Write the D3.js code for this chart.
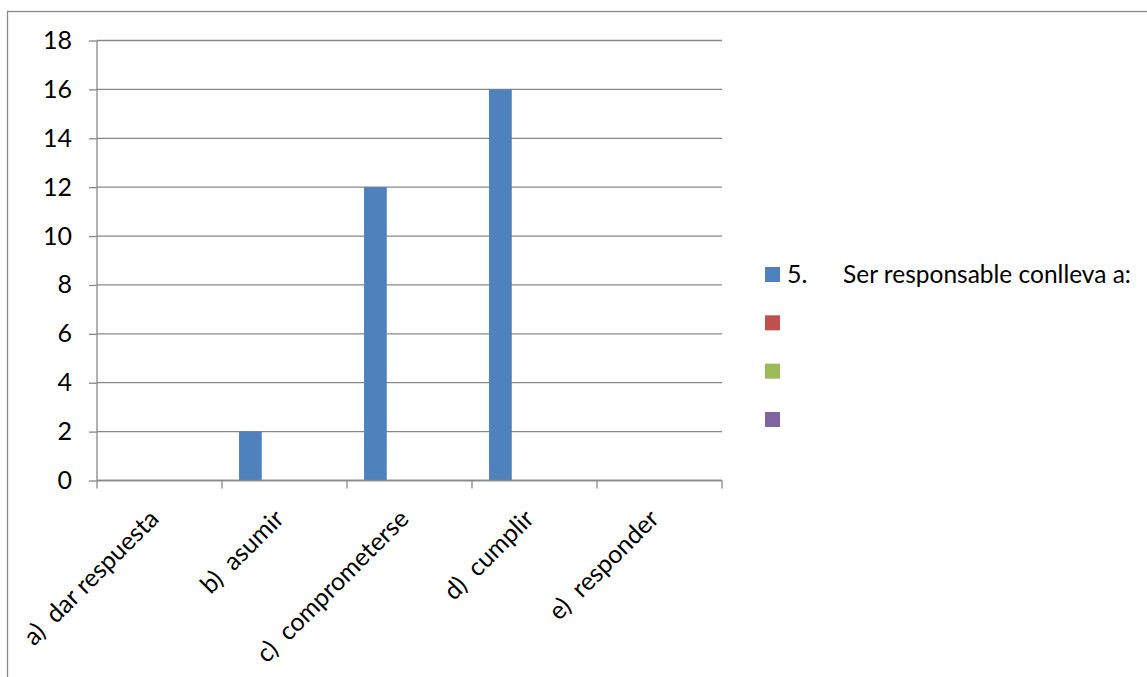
<!DOCTYPE html>
<html>
<head>
<meta charset="utf-8">
<script src="https://cdn.jsdelivr.net/npm/d3@7"></script>
<style>
  html, body { margin: 0; padding: 0; background: #fff; }
  svg { display: block; }
  text { font-family: Lato, "Open Sans", sans-serif; fill: #000; }
</style>
</head>
<body>
<svg id="chart" width="1147" height="677"></svg>
<script>
const categories = ["a) dar respuesta", "b) asumir", "c) comprometerse", "d) cumplir", "e) responder"];
const seriesNames = ["5.\tSer responsable conlleva a:", "", "", ""];
const series1Values = [0, 2, 12, 16, 0];
const series2Values = [null, null, null, null, null];
const series3Values = [null, null, null, null, null];
const series4Values = [null, null, null, null, null];
const yTicks = [0, 2, 4, 6, 8, 10, 12, 14, 16, 18];
const colors = ["#4F81BD", "#C0504D", "#9BBB59", "#8064A2"];

const allSeries = [series1Values, series2Values, series3Values, series4Values];

const svg = d3.select("#chart");
const fontSize = 25;
const gridColor = "#888888";

// outer chart border
svg.append("rect")
  .attr("x", 7.5).attr("y", 11.5)
  .attr("width", 1160).attr("height", 700)
  .attr("fill", "none").attr("stroke", "#888").attr("stroke-width", 1.3);

const plotLeft = 97, plotRight = 722, plotTop = 40.5, plotBottom = 480.5;

const y = d3.scaleLinear().domain([0, 18]).range([plotBottom, plotTop]);
const x0 = d3.scaleBand().domain(categories).range([plotLeft, plotRight]).paddingInner(0).paddingOuter(0);
const x1 = d3.scaleBand().domain(d3.range(4)).range([0, x0.bandwidth()]).paddingInner(0).paddingOuter(0.75);

// gridlines
svg.append("g")
  .selectAll("line")
  .data(yTicks)
  .join("line")
  .attr("x1", plotLeft).attr("x2", plotRight)
  .attr("y1", d => y(d)).attr("y2", d => y(d))
  .attr("stroke", gridColor).attr("stroke-width", 1.3);

// bars
allSeries.forEach((vals, si) => {
  svg.append("g")
    .selectAll("rect")
    .data(vals.map((v, i) => ({ v, c: categories[i] })).filter(d => d.v != null && d.v > 0))
    .join("rect")
    .attr("x", d => x0(d.c) + x1(si))
    .attr("width", x1.bandwidth())
    .attr("y", d => y(d.v))
    .attr("height", d => y(0) - y(d.v))
    .attr("fill", colors[si]);
});

// y axis
const yAxis = svg.append("g")
  .attr("transform", `translate(${plotLeft},0)`)
  .call(d3.axisLeft(y).tickValues(yTicks).tickSize(8).tickPadding(17).tickFormat(d3.format("d")));
yAxis.select(".domain").attr("stroke", gridColor).attr("stroke-width", 1.3).attr("d", `M0,${plotTop}V${plotBottom}`);
yAxis.selectAll(".tick line").attr("stroke", gridColor).attr("stroke-width", 1.3);
yAxis.selectAll(".tick text").style("font-size", fontSize + "px").style("font-family", "Lato").attr("fill", "#000");

// x axis
const xAxis = svg.append("g")
  .attr("transform", `translate(0,${plotBottom})`)
  .call(d3.axisBottom(x0).tickSize(0).tickFormat(""));
xAxis.select(".domain").attr("stroke", gridColor).attr("stroke-width", 1.3).attr("d", `M${plotLeft},0H${plotRight}`);
xAxis.selectAll(".tick").remove();
const boundaries = categories.map(c => x0(c)).concat([plotRight]);
xAxis.append("g").selectAll("line")
  .data(boundaries)
  .join("line")
  .attr("x1", d => d).attr("x2", d => d)
  .attr("y1", 0).attr("y2", 8)
  .attr("stroke", gridColor).attr("stroke-width", 1.3);

// rotated category labels
svg.append("g")
  .selectAll("text")
  .data(categories)
  .join("text")
  .attr("transform", d => `translate(${x0(d) + x0.bandwidth() / 2 - 8},${plotBottom + 31}) rotate(-45)`)
  .attr("text-anchor", "end")
  .attr("dy", "0.5em")
  .style("font-size", fontSize + "px")
  .style("white-space", "pre")
  .text(d => d.replace(") ", ")\u00A0 "));

// legend
const legendY = d3.scaleLinear().domain([0, 3]).range([274.5, 419.5]);
const legend = svg.append("g");
seriesNames.forEach((name, i) => {
  legend.append("rect")
    .attr("x", 765).attr("y", legendY(i) - 7.5)
    .attr("width", 15).attr("height", 15)
    .attr("fill", colors[i]);
  if (name) {
    const parts = name.split("\t");
    legend.append("text")
      .attr("x", 787).attr("y", legendY(i)).attr("dy", "0.35em")
      .style("font-size", fontSize + "px")
      .text(parts[0]);
    legend.append("text")
      .attr("x", 843).attr("y", legendY(i)).attr("dy", "0.35em")
      .style("font-size", "24.5px")
      .text(parts[1]);
  }
});
</script>
</body>
</html>
